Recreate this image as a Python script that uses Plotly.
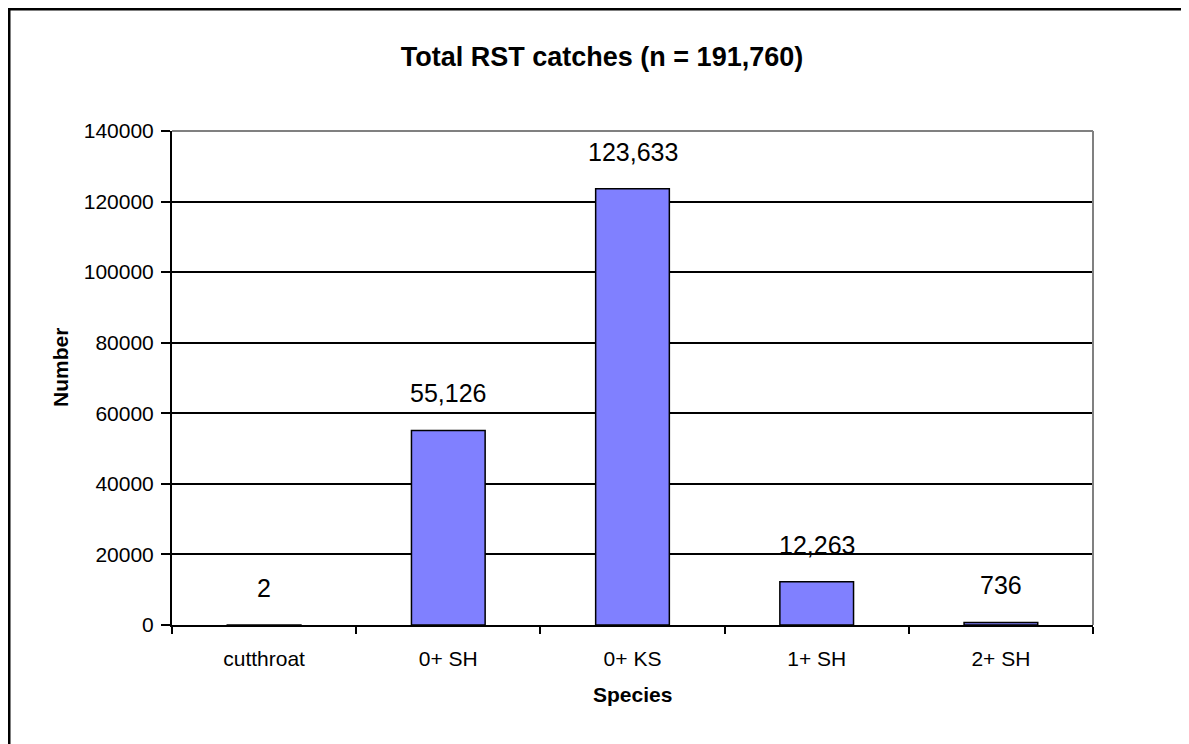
import plotly.graph_objects as go

# data
species = ["cutthroat", "0+ SH", "0+ KS", "1+ SH", "2+ SH"]
catches = [2, 55126, 123633, 12263, 736]
labels = ["2", "55,126", "123,633", "12,263", "736"]
y_ticks = [0, 20000, 40000, 60000, 80000, 100000, 120000, 140000]

# the page adds an 8px body margin, so figure coords = page coords - 8
W, H = 1189, 744
L, R, T, B = 164, 104, 123, 127
pw, ph = W - L - R, H - T - B

fig = go.Figure()
fig.add_trace(go.Bar(
    x=species, y=catches, width=0.4,
    marker=dict(color="#8080FF", line=dict(color="black", width=1.5)),
    showlegend=False, hoverinfo="x+y",
))

# value labels above the bars
for s, v, t in zip(species, catches, labels):
    fig.add_annotation(x=s, y=v, text=t, showarrow=False, yanchor="middle", yshift=37,
                       font=dict(size=25, color="black", family="Liberation Sans, Arial"))

fig.update_layout(
    width=W, height=H,
    margin=dict(l=L, r=R, t=T, b=B),
    paper_bgcolor="white", plot_bgcolor="white",
    font=dict(family="Liberation Sans, Arial", color="black"),
    title=dict(text="<b>Total RST catches (n = 191,760)</b>", x=594 / W, xanchor="center",
               y=1 - 49 / H, yanchor="middle", font=dict(size=27)),
    bargap=0.6,
)
fig.update_xaxes(
    showline=True, linecolor="black", linewidth=2,
    ticks="outside", tickson="boundaries", ticklen=7, tickwidth=2, tickcolor="black",
    ticklabelstandoff=14, tickfont=dict(size=21), showgrid=False,
)
fig.update_yaxes(
    range=[0, 140000], tickvals=y_ticks, ticktext=[str(v) for v in y_ticks],
    showline=True, linecolor="black", linewidth=2,
    ticks="outside", ticklen=9, tickwidth=2, tickcolor="black", ticklabelstandoff=3,
    tickfont=dict(size=21), showgrid=True, gridcolor="black", gridwidth=1.5,
    zeroline=False,
)

# axis titles
fig.add_annotation(xref="paper", yref="paper", x=0.5, y=(617 - 686) / ph, text="<b>Species</b>",
                   showarrow=False, font=dict(size=21), xanchor="center", yanchor="middle")
fig.add_annotation(xref="paper", yref="paper", x=(52 - L) / pw, y=(617 - 360) / ph, text="<b>Number</b>",
                   showarrow=False, font=dict(size=21), textangle=-90, xanchor="center", yanchor="middle")

# gray top/right edges of the plot area
fig.add_shape(type="line", xref="paper", yref="paper", x0=0, x1=1, y0=1, y1=1,
              line=dict(color="#808080", width=2), layer="above")
fig.add_shape(type="line", xref="paper", yref="paper", x0=1, x1=1, y0=0, y1=1,
              line=dict(color="#808080", width=2), layer="above")

# outer chart border (left and top visible)
fig.add_shape(type="rect", xref="paper", yref="paper",
              x0=(1 - L) / pw, x1=(W + 20 - L) / pw, y0=(617 - H - 20) / ph, y1=(617 - 1) / ph,
              line=dict(color="black", width=3), fillcolor="rgba(0,0,0,0)", layer="above")

fig.write_html("out.html")
